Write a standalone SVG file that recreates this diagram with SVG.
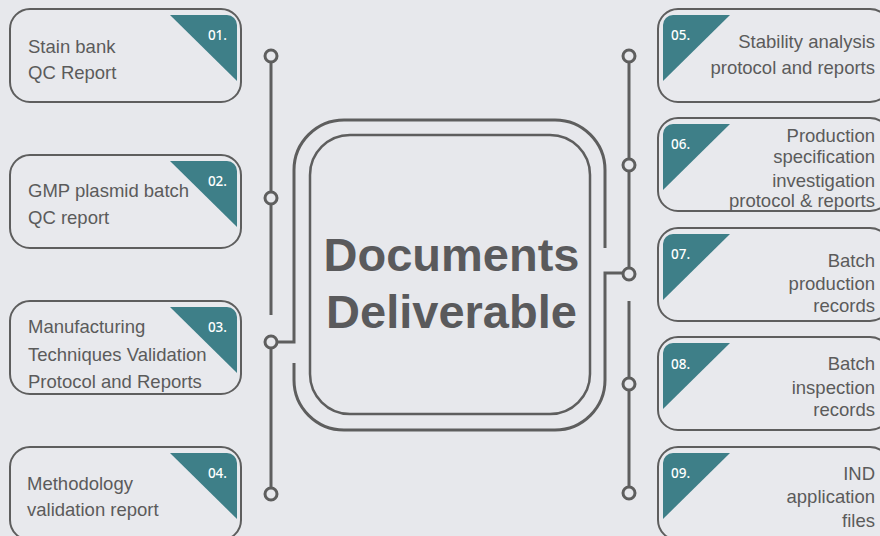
<svg xmlns="http://www.w3.org/2000/svg" width="880" height="536" viewBox="0 0 880 536">
<style>
.box{fill:#e8e9ed;stroke:#5e5e5e;stroke-width:2}
.tri{fill:#3e7f88}
.num{fill:#ffffff;font-family:"Noto Sans","Open Sans",sans-serif;font-size:13.5px;font-weight:500}
.txt{fill:#5b5b5b;font-family:"Liberation Sans",Arial,sans-serif;font-size:18.5px}
.r{text-anchor:end}
.ln{fill:none;stroke:#5e5e5e;stroke-width:3}
.dot{fill:#e7e8ec;stroke:#5e5e5e;stroke-width:3}
.big{fill:#5a5a5c;font-family:"Liberation Sans",Arial,sans-serif;font-size:47px;font-weight:bold;text-anchor:middle}
</style>
<rect width="880" height="536" fill="#e7e8ec"/>
<g id="connectors">
<path class="ln" d="M271,62 V315 M271,348 V488"/>
<path class="ln" d="M629,62 V268 M629,301 V487"/>
<path class="ln" d="M277,342 H294 V170 A50,50 0 0 1 344,120 H555 A50,50 0 0 1 605,170 V248"/>
<path class="ln" d="M623,273 H605 V380 A50,50 0 0 1 555,430 H344 A50,50 0 0 1 294,380 V363"/>
<circle class="dot" cx="271" cy="56" r="6"/>
<circle class="dot" cx="271" cy="198" r="6"/>
<circle class="dot" cx="271" cy="342" r="6"/>
<circle class="dot" cx="271" cy="494" r="6"/>
<circle class="dot" cx="629" cy="56" r="6"/>
<circle class="dot" cx="629" cy="165" r="6"/>
<circle class="dot" cx="629" cy="274" r="6"/>
<circle class="dot" cx="629" cy="384" r="6"/>
<circle class="dot" cx="629" cy="493" r="6"/>
</g>
<g id="center">
<rect x="310" y="135" width="280" height="279" rx="40" fill="none" stroke="#5e5e5e" stroke-width="2.5"/>
<text class="big" x="451.5" y="271">Documents</text>
<text class="big" x="451.5" y="328">Deliverable</text>
</g>
<g id="n01">
<rect class="box" x="10" y="9" width="231" height="93" rx="20"/>
<path class="tri" d="M170,15 H227 A10,10 0 0 1 237,25 V81 Z"/>
<text class="num" x="227" y="40" text-anchor="end">01.</text>
<text class="txt" x="28" y="53">Stain bank</text>
<text class="txt" x="28" y="79">QC Report</text>
</g>
<g id="n02">
<rect class="box" x="10" y="155" width="231" height="93" rx="20"/>
<path class="tri" d="M170,161 H227 A10,10 0 0 1 237,171 V227 Z"/>
<text class="num" x="227" y="186" text-anchor="end">02.</text>
<text class="txt" x="28" y="197">GMP plasmid batch</text>
<text class="txt" x="28" y="224">QC report</text>
</g>
<g id="n03">
<rect class="box" x="10" y="301" width="231" height="93" rx="20"/>
<path class="tri" d="M170,307 H227 A10,10 0 0 1 237,317 V373 Z"/>
<text class="num" x="227" y="332" text-anchor="end">03.</text>
<text class="txt" x="28" y="333">Manufacturing</text>
<text class="txt" x="28" y="361">Techniques Validation</text>
<text class="txt" x="28" y="388">Protocol and Reports</text>
</g>
<g id="n04">
<rect class="box" x="10" y="447" width="231" height="93" rx="20"/>
<path class="tri" d="M170,453 H227 A10,10 0 0 1 237,463 V519 Z"/>
<text class="num" x="227" y="478" text-anchor="end">04.</text>
<text class="txt" x="27" y="490">Methodology</text>
<text class="txt" x="27" y="516">validation report</text>
</g>
<g id="n05">
<rect class="box" x="658" y="9" width="232" height="93" rx="20"/>
<path class="tri" d="M730,15 H673 A10,10 0 0 0 663,25 V81 Z"/>
<text class="num" x="671" y="40">05.</text>
<text class="txt r" x="875" y="48">Stability analysis</text>
<text class="txt r" x="875" y="74">protocol and reports</text>
</g>
<g id="n06">
<rect class="box" x="658" y="118" width="232" height="93" rx="20"/>
<path class="tri" d="M730,124 H673 A10,10 0 0 0 663,134 V190 Z"/>
<text class="num" x="671" y="149">06.</text>
<text class="txt r" x="875" y="142">Production</text>
<text class="txt r" x="875" y="163">specification</text>
<text class="txt r" x="875" y="187">investigation</text>
<text class="txt r" x="875" y="207">protocol &amp; reports</text>
</g>
<g id="n07">
<rect class="box" x="658" y="228" width="232" height="93" rx="20"/>
<path class="tri" d="M730,234 H673 A10,10 0 0 0 663,244 V300 Z"/>
<text class="num" x="671" y="259">07.</text>
<text class="txt r" x="875" y="267">Batch</text>
<text class="txt r" x="875" y="290">production</text>
<text class="txt r" x="875" y="312">records</text>
</g>
<g id="n08">
<rect class="box" x="658" y="337" width="232" height="93" rx="20"/>
<path class="tri" d="M730,343 H673 A10,10 0 0 0 663,353 V409 Z"/>
<text class="num" x="671" y="369">08.</text>
<text class="txt r" x="875" y="370">Batch</text>
<text class="txt r" x="875" y="394">inspection</text>
<text class="txt r" x="875" y="416">records</text>
</g>
<g id="n09">
<rect class="box" x="658" y="447" width="232" height="93" rx="20"/>
<path class="tri" d="M730,453 H673 A10,10 0 0 0 663,463 V519 Z"/>
<text class="num" x="671" y="478">09.</text>
<text class="txt r" x="875" y="480">IND</text>
<text class="txt r" x="875" y="503">application</text>
<text class="txt r" x="875" y="527">files</text>
</g>
</svg>
